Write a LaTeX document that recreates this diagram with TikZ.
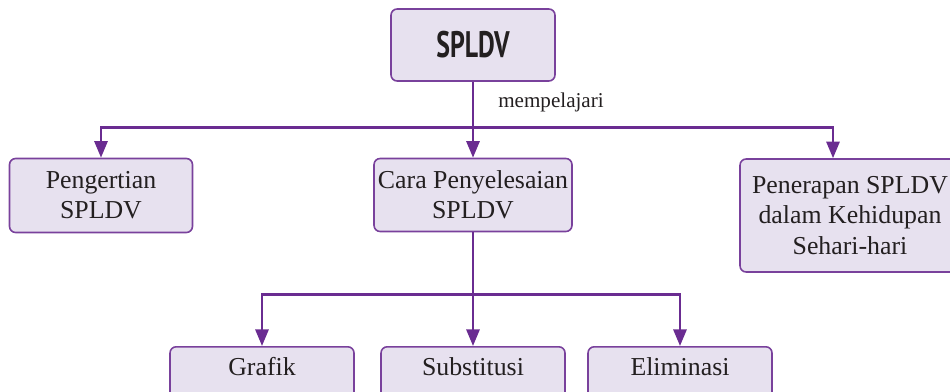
\documentclass[tikz,border=0pt]{standalone}
\usepackage{fontspec}
\setmainfont{Liberation Serif}
\newfontfamily\titlefont[FakeStretch=0.7]{PT Sans}
\usetikzlibrary{arrows.meta, positioning, calc}
\definecolor{ungu}{HTML}{6A2C91}
\definecolor{lila}{HTML}{E7E1EF}
\definecolor{tinta}{HTML}{231F20}

\begin{document}
\begin{tikzpicture}[
        x=0.02cm, y=-0.02cm,
        box/.style={rectangle, draw=ungu!90, line width=0.9pt, fill=lila, rounded corners=3.5pt, align=center, inner sep=0pt, text=tinta, font=\fontsize{14.7}{17.2}\selectfont},
        top/.style={box, minimum width=3.28cm, minimum height=1.44cm, font=\titlefont\bfseries\fontsize{21}{24}\selectfont},
        lower/.style={box, anchor=north, minimum width=3.68cm, inner ysep=0.16cm, text height=0.42cm, text depth=0.8cm},
        link/.style={-{Triangle[length=9.5pt, width=7.5pt]}, line width=1.5pt, draw=ungu},
        label/.style={font=\fontsize{12}{14}\selectfont, text=tinta, inner sep=0pt}
    ]
        \clip (0,0) rectangle (950,392);
        \node[top] (title) at (473, 45) {SPLDV};
        \node[box, minimum width=3.66cm, minimum height=1.48cm] (pengertian) at (101, 195.5) {Pengertian\\SPLDV};
        \node[box, minimum width=3.96cm, minimum height=1.46cm] (cara) at (473, 195) {Cara Penyelesaian\\SPLDV};
        \node[box, minimum width=4.4cm, minimum height=2.26cm] (penerapan) at (850, 215.5) {Penerapan SPLDV\\dalam Kehidupan\\Sehari-hari};
        \node[lower] (grafik) at (262, 346) {Grafik};
        \node[lower] (substitusi) at (473, 346) {Substitusi};
        \node[lower] (eliminasi) at (680, 346) {Eliminasi};
        \node[label, anchor=base] (pelajari) at (551, 107) {mempelajari};
        \draw[link] (title.south) -- ++(0, 46) coordinate (split) -| (pengertian.north);
        \draw[link] (split) -- (cara.north);
        \draw[link] (split) -| ([xshift=-0.34cm]penerapan.north);
        \draw[link] (cara.south) -- ++(0, 62.5) coordinate (cabang) -| (grafik.north);
        \draw[link] (cabang) -- (substitusi.north);
        \draw[link] (cabang) -| (eliminasi.north);
    \end{tikzpicture}
\end{document}
